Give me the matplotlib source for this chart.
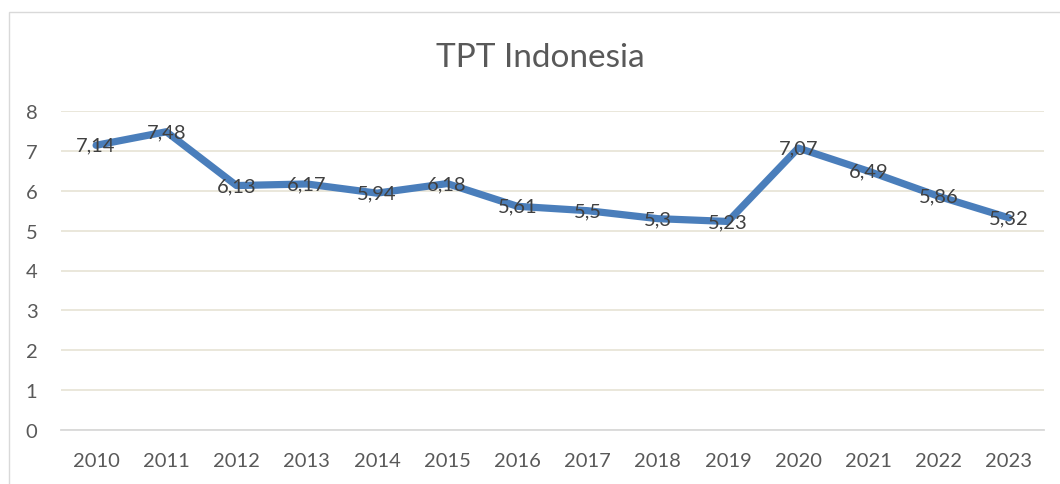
import matplotlib.pyplot as plt
from matplotlib.patches import Rectangle

years = ['2010', '2011', '2012', '2013', '2014', '2015', '2016',
         '2017', '2018', '2019', '2020', '2021', '2022', '2023']
tpt = [7.14, 7.48, 6.13, 6.17, 5.94, 6.18, 5.61,
       5.5, 5.3, 5.23, 7.07, 6.49, 5.86, 5.32]
yticks = [0, 1, 2, 3, 4, 5, 6, 7, 8]

plt.rcParams['font.family'] = ['Lato', 'DejaVu Sans']

fig = plt.figure(figsize=(10.6, 4.85), dpi=100)
ax = fig.add_axes([61 / 1060, 1 - 431 / 485, 983 / 1060, 319 / 485])

# chart border like the excel chart area
fig.patches.append(Rectangle((9 / 1060, -0.1), 1.2, 1 - 13 / 485 + 0.1,
                             transform=fig.transFigure, fill=False,
                             edgecolor='#d9d9d9', linewidth=1))

x = list(range(len(years)))
ax.plot(x, tpt, color='#4a7ebb', linewidth=5.2, solid_joinstyle='round',
        solid_capstyle='round', zorder=3)

for xi, v in zip(x, tpt):
    label = ('%g' % v).replace('.', ',')
    ax.text(xi, v, label, ha='center', va='center', fontsize=14.5,
            color='#404040', zorder=4)

ax.set_xlim(-0.5, len(years) - 0.5)
ax.set_ylim(0, 8)
ax.set_yticks(yticks)
ax.set_xticks(x)
ax.set_xticklabels(years)
ax.tick_params(length=0, labelsize=14.5, labelcolor='#595959')
ax.tick_params(axis='y', pad=17)
ax.tick_params(axis='x', pad=16)
ax.grid(axis='y', color='#e8e5d8', linewidth=1.3)
ax.set_axisbelow(True)
for side in ['top', 'right', 'left']:
    ax.spines[side].set_visible(False)
ax.spines['bottom'].set_color('#d9d9d9')
ax.spines['bottom'].set_linewidth(1.3)

fig.text(540 / 1060, 1 - 58 / 485, 'TPT Indonesia', ha='center', va='center',
         fontsize=24, color='#595959')

fig.savefig('out.png', dpi=100)
